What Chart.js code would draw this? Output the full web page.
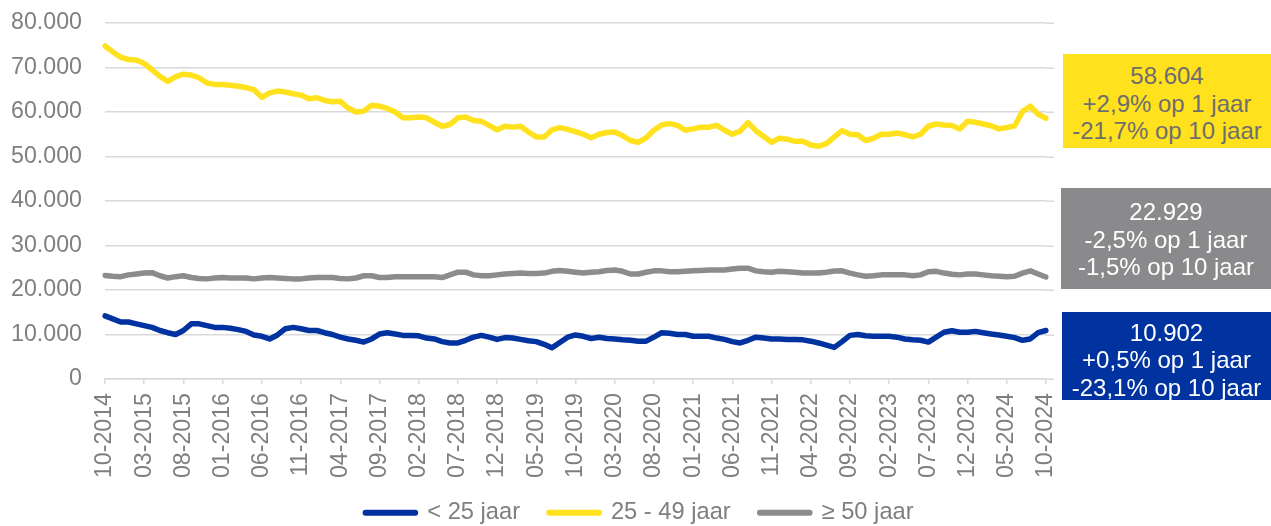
<!DOCTYPE html>
<html>
<head>
<meta charset="utf-8">
<script src="https://cdn.jsdelivr.net/npm/chart.js@4"></script>
<style>
  html, body { margin: 0; padding: 0; background: #fff; }
  #wrap { position: relative; width: 1271px; height: 526px; }
  .box {
    position: absolute;
    box-sizing: border-box;
    text-align: center;
    font-family: Arial, "Liberation Sans", sans-serif;
    font-size: 24px;
    line-height: 27.5px;
  }
</style>
</head>
<body>
<div id="wrap">
  <canvas id="chart" width="1271" height="526"></canvas>
  <div class="box" style="left:1063px;top:54px;width:208px;height:94px;padding-top:8px;background:#ffe11e;color:#6e6e6e;">58.604<br>+2,9% op 1 jaar<br>-21,7% op 10 jaar</div>
  <div class="box" style="left:1061px;top:188px;width:210px;height:101px;padding-top:10px;background:#8a8a8c;color:#fff;">22.929<br>-2,5% op 1 jaar<br>-1,5% op 10 jaar</div>
  <div class="box" style="left:1062px;top:312px;width:209px;height:88px;padding-top:6.5px;background:#0033a0;color:#fff;">10.902<br>+0,5% op 1 jaar<br>-23,1% op 10 jaar</div>
</div>
<script>
// monthly labels 10-2014 .. 10-2024
const months = [];
for (let y = 2014, m = 10; y < 2024 || (y === 2024 && m <= 10); m++) {
    if (m > 12) { m = 1; y++; }
    months.push(String(m).padStart(2, '0') + '-' + y);
}

const seriesNames = ['< 25 jaar', '25 - 49 jaar', '≥ 50 jaar'];

const under25 = [
    14180, 13500, 12800, 12800, 12400, 12000, 11600, 10900, 10400, 10000,
    10900, 12400, 12400, 12000, 11600, 11600, 11400, 11100, 10700, 9900,
    9600, 9000, 9900, 11300, 11600, 11300, 10900, 10900, 10400, 10000,
    9400, 9000, 8700, 8300, 9000, 10100, 10400, 10100, 9800, 9800,
    9700, 9200, 9000, 8400, 8100, 8100, 8700, 9400, 9800, 9400,
    8900, 9300, 9200, 8900, 8600, 8400, 7800, 7000, 8200, 9400,
    9900, 9600, 9100, 9400, 9100, 9000, 8800, 8700, 8500, 8500,
    9400, 10400, 10300, 10000, 10000, 9600, 9600, 9600, 9200, 8900,
    8400, 8100, 8700, 9400, 9200, 9000, 9000, 8900, 8900, 8800,
    8500, 8100, 7600, 7100, 8400, 9800, 10000, 9700, 9600, 9600,
    9600, 9400, 9000, 8800, 8700, 8300, 9400, 10500, 10850, 10500,
    10500, 10700, 10400, 10100, 9900, 9600, 9300, 8700, 9000, 10400,
    10902
];

const age25to49 = [
    74845, 73500, 72300, 71800, 71700, 70900, 69500, 68000, 66900, 67900,
    68500, 68300, 67700, 66500, 66200, 66200, 66000, 65800, 65500, 65000,
    63300, 64300, 64700, 64500, 64100, 63800, 63000, 63200, 62600, 62300,
    62400, 60900, 60000, 60200, 61500, 61300, 60800, 60000, 58700, 58700,
    58900, 58700, 57700, 56800, 57200, 58700, 58900, 58100, 57900, 57000,
    56000, 56800, 56600, 56800, 55500, 54400, 54400, 56000, 56500, 56100,
    55600, 55000, 54200, 55000, 55400, 55500, 54700, 53600, 53200, 54200,
    55900, 57100, 57400, 57000, 55900, 56200, 56600, 56600, 57000, 55900,
    55000, 55700, 57600, 55800, 54500, 53200, 54100, 53900, 53400, 53400,
    52600, 52300, 52900, 54400, 55800, 55000, 54900, 53600, 54100, 55000,
    55000, 55300, 54900, 54400, 55000, 56800, 57300, 57100, 56950, 56200,
    57900, 57700, 57300, 56900, 56200, 56500, 56900, 60100, 61300, 59500,
    58604
];

const over50 = [
    23280, 23100, 23000, 23400, 23600, 23800, 23900, 23200, 22700, 23000,
    23200, 22800, 22600, 22500, 22700, 22800, 22700, 22700, 22700, 22500,
    22700, 22800, 22700, 22600, 22500, 22500, 22700, 22800, 22800, 22800,
    22600, 22500, 22700, 23200, 23200, 22800, 22800, 23000, 23000, 23000,
    23000, 23000, 23000, 22800, 23400, 24000, 24000, 23400, 23200, 23200,
    23400, 23600, 23700, 23800, 23700, 23700, 23800, 24200, 24400, 24200,
    24000, 23800, 24000, 24100, 24400, 24500, 24200, 23600, 23600, 24000,
    24300, 24300, 24100, 24100, 24200, 24300, 24400, 24500, 24500, 24500,
    24700, 24900, 24900, 24300, 24100, 24000, 24200, 24100, 24000, 23800,
    23800, 23800, 24000, 24250, 24300, 23800, 23400, 23100, 23200, 23400,
    23400, 23400, 23400, 23200, 23400, 24100, 24200, 23800, 23520, 23400,
    23600, 23600, 23400, 23200, 23100, 23000, 23100, 23800, 24300, 23600,
    22929
];

const lineColors = ['#0033a0', '#ffe11e', '#8c8c8c'];
const textColor = '#7f7f7f';
const gridColor = '#d9d9d9';
const fontFamily = 'Arial, "Liberation Sans", sans-serif';

function thousands(v) {
    return String(v).replace(/\B(?=(\d{3})+(?!\d))/g, '.');
}

// move the legend so it is centred on the whole picture, not on the plot
const legendShift = {
    id: 'legendShift',
    afterLayout(chart) {
        const lg = chart.legend;
        const dx = (chart.width / 2 + 4) - (lg.left + lg.right) / 2;
        lg.left += dx; lg.right += dx;
        lg.top = 472;
        lg.bottom = chart.height;   // keep the clip box big enough for the text
        lg.height = lg.bottom - lg.top;
    }
};

// the horizontal grid runs a few pixels past the last month, like in Excel
const gridExtend = {
    id: 'gridExtend',
    beforeDatasetsDraw(chart) {
        const { ctx, chartArea, scales } = chart;
        ctx.save();
        ctx.strokeStyle = gridColor;
        ctx.lineWidth = 1.5;
        scales.y.ticks.forEach(t => {
            const y = Math.round(scales.y.getPixelForValue(t.value)) + 0.25;
            ctx.beginPath();
            ctx.moveTo(chartArea.right, y);
            ctx.lineTo(chartArea.right + 8, y);
            ctx.stroke();
        });
        ctx.restore();
    }
};

const series = [under25, age25to49, over50];

new Chart(document.getElementById('chart'), {
    type: 'line',
    data: {
        labels: months,
        datasets: series.map((d, i) => ({
            label: seriesNames[i],
            data: d,
            borderColor: lineColors[i],
            backgroundColor: lineColors[i],
            borderWidth: 5.5,
            pointRadius: 0,
            tension: 0,
            borderJoinStyle: 'round',
            borderCapStyle: 'round',
            fill: false
        }))
    },
    options: {
        responsive: false,
        devicePixelRatio: 1,
        animation: false,
        layout: {
            padding: { left: 0, right: 225, top: 23, bottom: 0 }
        },
        plugins: {
            legend: {
                position: 'bottom',
                maxHeight: 47,
                labels: {
                    boxWidth: 50,
                    boxHeight: 0.5,
                    padding: 29,
                    color: textColor,
                    font: { family: fontFamily, size: 23.7 }
                }
            },
            tooltip: { enabled: false }
        },
        scales: {
            x: {
                offset: false,
                grid: {
                    drawOnChartArea: false,
                    drawTicks: true,
                    tickLength: 5,
                    color: gridColor,
                    lineWidth: 1.5
                },
                border: { display: true, color: gridColor, width: 1.5 },
                ticks: {
                    autoSkip: false,
                    maxRotation: 90,
                    minRotation: 90,
                    padding: 9,
                    color: textColor,
                    font: { family: fontFamily, size: 23.2 },
                    callback: function(val, idx) {
                        return idx % 5 === 0 ? this.getLabelForValue(val) : null;
                    }
                },
                afterFit(scale) { scale.height = 100; }
            },
            y: {
                min: 0,
                max: 80000,
                grid: {
                    color: gridColor,
                    lineWidth: 1.5,
                    drawTicks: true,
                    tickLength: 23,
                    tickColor: 'rgba(0,0,0,0)'
                },
                border: { display: false },
                ticks: {
                    stepSize: 10000,
                    padding: 0,
                    color: textColor,
                    font: { family: fontFamily, size: 23.2 },
                    callback: v => thousands(v)
                },
                afterFit(scale) { scale.width = 105; }
            }
        }
    },
    plugins: [legendShift, gridExtend]
});
</script>
</body>
</html>
